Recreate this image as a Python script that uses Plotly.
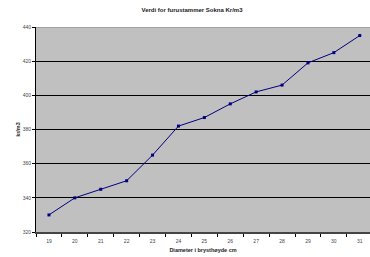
import plotly.graph_objects as go

diameter = [19, 20, 21, 22, 23, 24, 25, 26, 27, 28, 29, 30, 31]
verdi = [330, 340, 345, 350, 365, 382, 387, 395, 402, 406, 419, 425, 435]
y_ticks = [320, 340, 360, 380, 400, 420, 440]

fig = go.Figure()
fig.add_trace(go.Scatter(
    x=diameter, y=verdi, mode="lines+markers",
    line=dict(color="#000080", width=1),
    marker=dict(symbol="square", size=3, color="#000080"),
    showlegend=False,
))

font = "Liberation Sans, Arial, sans-serif"
fig.update_layout(
    width=370, height=257,
    margin=dict(l=36, r=0, t=27, b=25, autoexpand=False),
    paper_bgcolor="white", plot_bgcolor="#C0C0C0",
    font=dict(family=font, size=5, color="#333"),
    title=dict(text="<b>Verdi for furustammer Sokna Kr/m3</b>", x=192/370, xanchor="center",
               y=1-10/257, yanchor="middle", font=dict(size=6, color="#222")),
    xaxis=dict(
        range=[18.5, 18.5 + 334/25.9], automargin=False,
        tickvals=diameter, ticktext=[str(d) for d in diameter], ticks="",
        ticklabelstandoff=3,
        showgrid=False, zeroline=False,
        showline=True, linecolor="#444", linewidth=2,
        minor=dict(tickvals=[d - 0.5 for d in diameter], ticks="outside", ticklen=3,
                   tickcolor="#000", showgrid=False),
        title=dict(text="<b>Diameter i brysthøyde cm</b>", font=dict(size=5.5, color="#222"), standoff=5),
        tickfont=dict(size=5, color="#444"),
    ),
    yaxis=dict(
        range=[320, 440], tickvals=y_ticks, ticks="outside", ticklen=3, tickcolor="#000",
        automargin=False,
        showgrid=True, gridcolor="#000", gridwidth=1, zeroline=False,
        showline=True, linecolor="#000", linewidth=1,
        title=dict(text="<b>kr/m3</b>", font=dict(size=5.5, color="#222"), standoff=1),
        tickfont=dict(size=5, color="#444"),
    ),
)
fig.add_shape(type="line", xref="paper", yref="y", x0=0, x1=1, y0=440, y1=440,
              line=dict(color="#808080", width=1))
fig.write_html("out.html", config={"displayModeBar": False},
               post_script="document.body.style.margin='0';")
